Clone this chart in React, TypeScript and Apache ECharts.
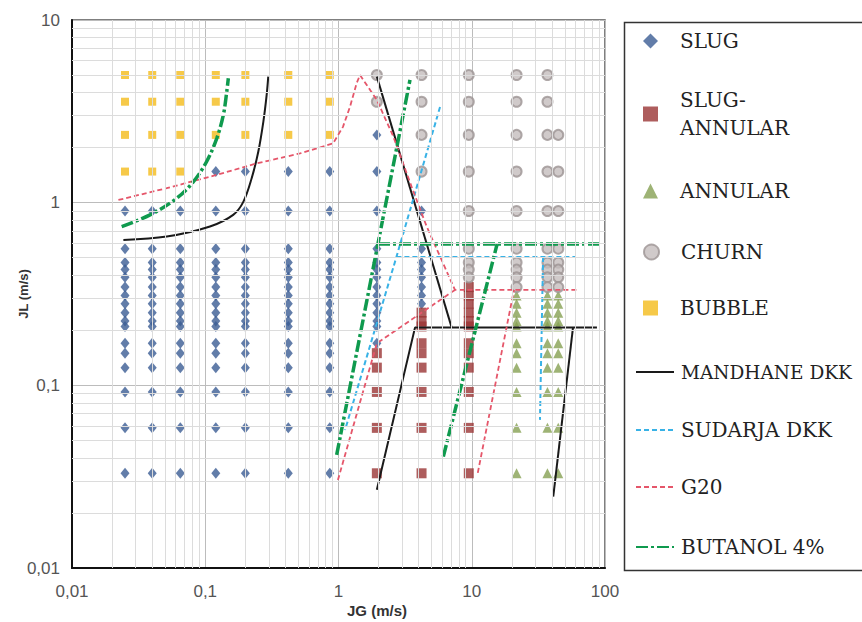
import React, { useEffect, useRef } from 'react';
import * as echarts from 'echarts';

// ---------------- data ----------------
// gas superficial velocity (JG, m/s) of each measurement column
const JG_COLUMNS = [0.025, 0.04, 0.065, 0.12, 0.2, 0.42, 0.86, 1.94, 4.2, 9.5, 21.7, 37, 44.6];
// liquid superficial velocity (JL, m/s) of each measurement row
const JL_ROWS = [5.0, 3.57, 2.35, 1.48, 0.9, 0.56, 0.47, 0.43, 0.39, 0.345, 0.31, 0.28, 0.25, 0.225, 0.21, 0.17, 0.15, 0.125, 0.092, 0.0585, 0.033];
// observed regime per column (one char per row): B bubble, S slug, X slug-annular, N annular, C churn, - none
const REGIME_BY_COLUMN = [
  'BBBBSSSSSSSSSSSSSSSSS',
  'BBBBSSSSSSSSSSSSSSSSS',
  'BBBBSSSSSSSSSSSSSSSSS',
  'BBBSSSSSSSSSSSSSSSSSS',
  'BBBSSSSSSSSSSSSSSSSSS',
  'BBBSSSSSSSSSSSSSSSSSS',
  'BBBSSSSSSSSSSSSSSSSSS',
  'CCSSSSSSSSSSSSSSXXXXX',
  'CCCCSSSSSSSSXXXXXXXXX',
  'CCCCCCCCCXXXXXXXXXXXX',
  'CCCCCCCCCCNNNNNNNNNNN',
  'CCCCCCCCCCNNNNNNNNNNN',
  '--CCCCCCCCNNNNNNNNNNN',
];

const X_TICK_LABELS = ['0,01', '0,1', '1', '10', '100'];
const Y_TICK_LABELS = ['0,01', '0,1', '1', '10'];

// transition boundaries [JG, JL]
const MANDHANE_CURVE = [[0.0243, 0.625], [0.0514, 0.652], [0.1085, 0.74], [0.162, 0.857], [0.193, 1.01], [0.223, 1.36], [0.25, 1.9], [0.273, 2.78], [0.289, 3.89], [0.297, 4.9]];
const MANDHANE_DIAG = [[1.94, 4.9], [7.07, 0.207]];
const MANDHANE_FLOOR = [[1.94, 0.0268], [3.75, 0.207], [87, 0.207]];
const MANDHANE_RIGHT = [[57.5, 0.207], [40.9, 0.0246]];

const SUDARJA_LEFT = [[5.78, 3.34], [2.72, 0.504], [1.12, 0.057]];
const SUDARJA_TOP = [[2.72, 0.504], [59.6, 0.504]];
const SUDARJA_RIGHT = [[34.3, 0.504], [32.5, 0.0647]];

const G20_UPPER = [[0.0223, 1.035], [0.0514, 1.2], [0.122, 1.42], [0.243, 1.64], [0.514, 1.86], [0.91, 2.11], [1.08, 2.6], [1.22, 3.35], [1.37, 4.52], [1.45, 5.0], [1.94, 3.65], [2.58, 2.3], [3.54, 1.22], [4.59, 0.74], [7.48, 0.333], [62.7, 0.333]];
const G20_LOWER = [[0.99, 0.0303], [1.94, 0.17], [7.48, 0.333]];
const G20_RIGHT = [[11.1, 0.0332], [20.75, 0.333]];

const BUTANOL_CURVE = [[0.0236, 0.74], [0.0385, 0.857], [0.0611, 1.057], [0.0813, 1.3], [0.1025, 1.68], [0.122, 2.25], [0.1367, 3.02], [0.145, 4.05], [0.149, 4.8]];
const BUTANOL_MID = [[0.969, 0.0416], [3.44, 4.7]];
const BUTANOL_TOP = [[1.98, 0.594], [91.7, 0.594]];
const BUTANOL_RIGHT = [[6.12, 0.0407], [15.5, 0.594]];

// ---------------- styles ----------------
const REGIMES = [
  { code: 'S', name: 'SLUG', symbol: 'diamond', size: [9, 11], color: '#3b5c93' },
  { code: 'X', name: 'SLUG-ANNULAR', symbol: 'rect', size: 10, color: '#9a3435' },
  { code: 'N', name: 'ANNULAR', symbol: 'triangle', size: 10, color: '#86a052' },
  { code: 'C', name: 'CHURN', symbol: 'circle', size: 10, color: '#c4bdbd', border: '#9c9393' },
  { code: 'B', name: 'BUBBLE', symbol: 'rect', size: 8, color: '#f4bb1c' },
];

const LINES = [
  { name: 'MANDHANE DKK', parts: [MANDHANE_CURVE, MANDHANE_DIAG, MANDHANE_FLOOR, MANDHANE_RIGHT], color: '#1a1a1a', width: 2, type: 'solid' as any, smooth: [true, false, false, false] },
  { name: 'SUDARJA DKK', parts: [SUDARJA_LEFT, SUDARJA_TOP, SUDARJA_RIGHT], color: '#38b2e6', width: 2, type: [5, 3] as any, smooth: [false, false, false] },
  { name: 'G20', parts: [G20_UPPER, G20_LOWER, G20_RIGHT], color: '#e5566a', width: 1.8, type: [5, 3] as any, smooth: [false, false, false] },
  { name: 'BUTANOL 4%', parts: [BUTANOL_CURVE, BUTANOL_MID, BUTANOL_TOP, BUTANOL_RIGHT], color: '#0f9a4e', width: 3.5, type: [12, 3, 3, 3] as any, smooth: [true, false, false, false] },
];

const LEGEND_CENTERS: Record<string, number> = {
  'SLUG': 41,
  'SLUG-ANNULAR': 114,
  'ANNULAR': 191,
  'CHURN': 252,
  'BUBBLE': 308,
  'MANDHANE DKK': 372,
  'SUDARJA DKK': 430,
  'G20': 487,
  'BUTANOL 4%': 547,
};

function pointsFor(code: string) {
  const pts: number[][] = [];
  JG_COLUMNS.forEach((x, ci) => {
    JL_ROWS.forEach((y, ri) => {
      if (REGIME_BY_COLUMN[ci][ri] === code) pts.push([x, y]);
    });
  });
  return pts;
}

function minorValues(minExp: number, maxExp: number) {
  const out: number[] = [];
  for (let e = minExp; e < maxExp; e++) {
    for (let k = 2; k <= 9; k++) out.push(+(k * Math.pow(10, e)).toPrecision(3));
  }
  return out;
}

function tickLabel(labels: string[], minExp: number) {
  return (v: number) => {
    const e = Math.round(Math.log10(v));
    return labels[e - minExp] ?? '';
  };
}

export default function App() {
  const ref = useRef<HTMLDivElement>(null);
  useEffect(() => {
    document.body.style.margin = '0';
    if (!ref.current) return;
    const chart = echarts.init(ref.current, undefined, { renderer: 'svg' });

    const series: any[] = [];
    // minor grid lines of the log paper
    series.push({
      type: 'line',
      data: [],
      z: 1,
      silent: true,
      markLine: {
        silent: true,
        symbol: ['none', 'none'],
        label: { show: false },
        animation: false,
        lineStyle: { color: '#dcdcdc', width: 1, type: 'solid' },
        data: [
          ...minorValues(-2, 2).map((v) => ({ xAxis: v })),
          ...minorValues(-2, 1).map((v) => ({ yAxis: v })),
        ],
      },
    });

    REGIMES.forEach((r) => {
      series.push({
        type: 'scatter',
        name: r.name,
        data: pointsFor(r.code),
        symbol: r.symbol,
        symbolSize: r.size,
        symbolKeepAspect: true,
        z: 3,
        itemStyle: r.border
          ? { color: r.color, borderColor: r.border, borderWidth: 2 }
          : { color: r.color },
      });
    });

    LINES.forEach((l) => {
      l.parts.forEach((p, i) => {
        series.push({
          type: 'line',
          name: l.name,
          data: p,
          symbol: 'none',
          smooth: l.smooth[i] ? 0.35 : false,
          z: 4,
          lineStyle: { color: l.color, width: l.width, type: l.type },
          itemStyle: { color: l.color },
        });
      });
    });

    const lineNames = LINES.map((l) => l.name);
    const legendNames = [...REGIMES.map((r) => r.name), ...lineNames];
    const legends = legendNames.map((n) => {
      const two = n === 'SLUG-ANNULAR';
      const isLine = lineNames.includes(n);
      const h = two ? 56 : 24;
      const leg: any = {
        data: [n],
        left: isLine ? 635 : 643,
        top: LEGEND_CENTERS[n] - h / 2,
        orient: 'vertical',
        padding: 0,
        itemWidth: isLine ? 38 : 15,
        itemHeight: 15,
        selectedMode: false,
        symbolKeepAspect: true,
        formatter: (name: string) => (name === 'SLUG-ANNULAR' ? 'SLUG-\nANNULAR' : name),
        textStyle: {
          fontFamily: 'DejaVu Serif',
          fontSize: n === 'MANDHANE DKK' ? 18.5 : 20,
          color: '#222',
          lineHeight: two ? 28 : 24,
          padding: isLine ? [0, 0, 0, 2] : [0, 0, 0, 17],
        },
      };
      if (isLine) leg.itemStyle = { opacity: 0 };
      return leg;
    });

    chart.setOption({
      animation: false,
      backgroundColor: '#ffffff',
      grid: {
        left: 72,
        top: 20,
        width: 533,
        height: 548,
        show: true,
        borderColor: '#555',
        borderWidth: 1.5,
        containLabel: false,
      },
      xAxis: {
        type: 'log',
        logBase: 10,
        min: 0.01,
        max: 100,
        axisLine: { show: true, lineStyle: { color: '#111', width: 2 } },
        axisTick: { show: false },
        axisLabel: {
          margin: 15,
          color: '#555',
          fontSize: 17,
          fontFamily: 'Liberation Sans',
          formatter: tickLabel(X_TICK_LABELS, -2),
        },
        splitLine: { show: true, lineStyle: { color: '#bcbcbc', width: 1 } },
      },
      yAxis: {
        type: 'log',
        logBase: 10,
        min: 0.01,
        max: 10,
        axisLine: { show: true, lineStyle: { color: '#111', width: 2 } },
        axisTick: { show: false },
        axisLabel: {
          margin: 12,
          color: '#555',
          fontSize: 17,
          fontFamily: 'Liberation Sans',
          formatter: tickLabel(Y_TICK_LABELS, -2),
        },
        splitLine: { show: true, lineStyle: { color: '#bcbcbc', width: 1 } },
      },
      legend: legends,
      graphic: [
        {
          type: 'rect',
          left: 622,
          top: 20,
          z: -1,
          shape: { width: 260, height: 548 },
          style: { fill: 'none', stroke: '#333', lineWidth: 1.5 },
          silent: true,
        },
        {
          type: 'text',
          x: 377,
          y: 610,
          style: {
            text: 'JG (m/s)',
            fontFamily: 'Liberation Sans',
            fontWeight: 'bold',
            fontSize: 15,
            fill: '#333',
            textAlign: 'center',
            textVerticalAlign: 'middle',
          },
        },
        {
          type: 'text',
          x: 23,
          y: 294,
          rotation: Math.PI / 2,
          style: {
            text: 'JL (m/s)',
            fontFamily: 'Liberation Sans',
            fontWeight: 'bold',
            fontSize: 13,
            fill: '#333',
            textAlign: 'center',
            textVerticalAlign: 'middle',
          },
        },
      ],
      series,
    });
    return () => chart.dispose();
  }, []);
  return <div ref={ref} style={{ width: 862, height: 622 }} />;
}
